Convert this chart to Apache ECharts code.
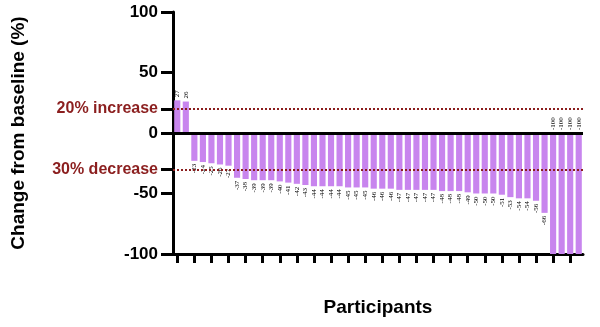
<!DOCTYPE html>
<html><head><meta charset="utf-8">
<script src="https://cdn.jsdelivr.net/npm/echarts@6/dist/echarts.min.js"></script>
<style>html,body{margin:0;padding:0;background:#fff}#c{width:600px;height:327px}</style>
</head><body><div id="c"></div>
<script>
const participants = Array.from({length: 48}, (_, i) => 'P' + (i + 1));
const changes = [27, 26, -23, -24, -25, -26, -27,
  -37, -38, -39, -39, -39, -40, -41, -42, -43, -44, -44, -44, -44, -45, -45, -45,
  -46, -46, -46, -47, -47, -47, -47, -47, -48, -48, -48, -49, -50, -50, -50, -51,
  -53, -54, -54, -56, -66, -100, -100, -100, -100];
const yTicks = [-100, -50, -30, 0, 20, 50, 100];
const thresholds = [20, -30];

const chart = echarts.init(document.getElementById('c'));
const dark = '#8B1E1E';
const barData = changes.map(v => ({
  value: v,
  label: {
    show: true,
    position: (v >= 0 || v <= -100) ? 'top' : 'bottom',
    rotate: 90,
    align: (v >= 0 || v <= -100) ? 'left' : 'right',
    verticalAlign: 'middle',
    distance: 3
  }
}));
chart.setOption({
  animation: false,
  grid: {left: 173, right: 17, top: 12, bottom: 73},
  xAxis: {
    type: 'category',
    data: participants,
    name: 'Participants',
    nameLocation: 'middle',
    nameGap: 44,
    nameTextStyle: {fontFamily: 'Liberation Sans', fontWeight: 'bold', fontSize: 19, color: '#000'},
    axisLine: {onZero: false, lineStyle: {color: '#000', width: 3}},
    axisTick: {show: true, interval: 1, alignWithLabel: true, length: 9, lineStyle: {color: '#000', width: 3}},
    axisLabel: {show: false}
  },
  yAxis: {
    type: 'value',
    min: -100, max: 100, interval: 50,
    name: 'Change from baseline (%)',
    nameLocation: 'middle',
    nameGap: 145,
    nameRotate: 90,
    nameTextStyle: {fontFamily: 'Liberation Sans', fontWeight: 'bold', fontSize: 19, color: '#000'},
    splitLine: {show: false},
    axisLine: {show: true, lineStyle: {color: '#000', width: 3}},
    axisTick: {show: true, customValues: yTicks, length: 12, lineStyle: {color: '#000', width: 3}},
    axisLabel: {
      customValues: yTicks,
      margin: 15,
      fontFamily: 'Liberation Sans', fontWeight: 'bold', fontSize: 17, color: '#000',
      formatter: v => v === 20 ? '{r|20% increase}' : (v === -30 ? '{r|30% decrease}' : String(v)),
      rich: {r: {color: dark, fontFamily: 'Liberation Sans', fontWeight: 'bold', fontSize: 16}}
    }
  },
  series: [{
    type: 'bar',
    data: barData,
    barCategoryGap: '28%',
    itemStyle: {color: '#C885EE'},
    label: {fontFamily: 'Liberation Serif', fontSize: 7, color: '#000'},
    markLine: {
      silent: true,
      symbol: 'none',
      label: {show: false},
      data: [
        {yAxis: thresholds[0], lineStyle: {color: dark, type: 'dotted', width: 2}},
        {yAxis: thresholds[1], lineStyle: {color: dark, type: 'dotted', width: 2}},
        {yAxis: 0, lineStyle: {color: '#000', type: 'solid', width: 3}}
      ]
    }
  }]
});
</script></body></html>
